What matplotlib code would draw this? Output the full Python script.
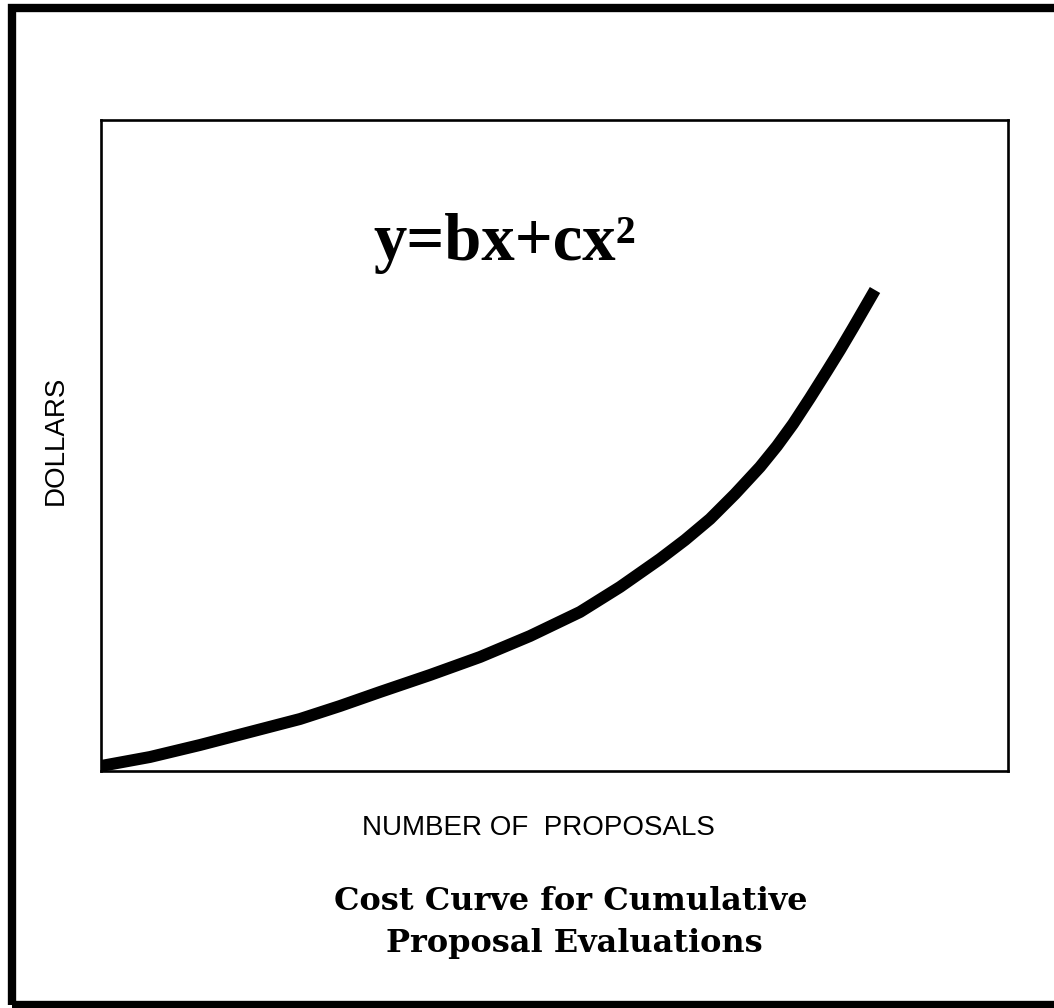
import matplotlib
matplotlib.use("Agg")
import matplotlib.pyplot as plt
from matplotlib.patches import Rectangle

# ---------------------------------------------
# DATA (arbitrary units)
# ---------------------------------------------

proposals = [0, 49, 99, 149, 199, 239, 279, 329, 379, 429, 479, 519, 559,
             584, 609, 634, 659, 676, 692, 709, 726, 739, 752, 763, 774]
dollars = [5, 14, 26, 39, 52, 65, 79, 96, 114, 135, 159, 184, 212,
           231, 252, 277, 304, 325, 347, 373, 400, 421, 443, 462, 481]

equation = "y=bx+cx²"
x_label = "NUMBER OF  PROPOSALS"
y_label = "DOLLARS"
caption = ["Cost Curve for Cumulative", "Proposal Evaluations"]

# ---------------------------------------------
# FIGURE
# ---------------------------------------------

W, H = 1054, 1008
fig = plt.figure(figsize=(W / 100, H / 100), dpi=100)
ax = fig.add_axes([101 / W, 1 - 771 / H, 907 / W, 651 / H])

ax.plot(proposals, dollars, color="black", linewidth=8.6,
        solid_capstyle="butt", solid_joinstyle="round")
ax.set_xlim(0, 907)
ax.set_ylim(0, 651)
ax.set_xticks([])
ax.set_yticks([])
for side in ax.spines.values():
    side.set_linewidth(1.9)

serif = ["Liberation Serif", "DejaVu Serif"]
wide_serif = ["DejaVu Serif"]
sans = ["Liberation Sans", "DejaVu Sans"]

fig.text(505 / W, 1 - 260 / H, equation, family=serif, weight="bold",
         fontsize=48, ha="center", va="baseline")
fig.text(56 / W, 1 - 440 / H, y_label, family=sans, fontsize=20,
         rotation=90, ha="center", va="center")
fig.text(538 / W, 1 - 835 / H, x_label, family=sans, fontsize=20,
         ha="center", va="baseline")
fig.text(571 / W, 1 - 910 / H, caption[0], family=wide_serif, weight="bold",
         fontsize=23, ha="center", va="baseline")
fig.text(574 / W, 1 - 952 / H, caption[1], family=wide_serif, weight="bold",
         fontsize=23, ha="center", va="baseline")

# outer frame (right edge runs off the page)
frame = Rectangle((12 / W, 1 - 1005 / H), 1.1, (1005 - 8) / H,
                  transform=fig.transFigure, fill=False,
                  edgecolor="black", linewidth=6)
fig.add_artist(frame)

fig.savefig("out.png", dpi=100)
